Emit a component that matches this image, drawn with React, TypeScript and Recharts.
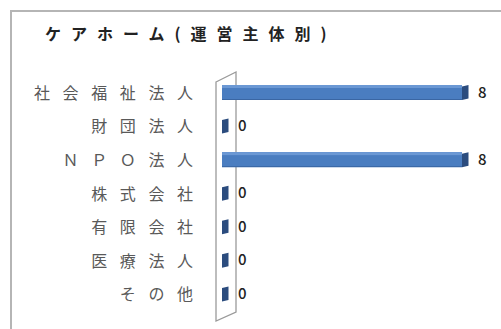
import React from 'react'
import { BarChart, Bar, XAxis, YAxis, LabelList } from 'recharts'

const title = 'ケアホーム(運営主体別)'
const categories = ['社会福祉法人', '財団法人', 'ＮＰＯ法人', '株式会社', '有限会社', '医療法人', 'その他']
const counts = [8, 0, 8, 0, 0, 0, 0]

const data = categories.map((name, i) => ({ name, value: counts[i] }))

const FONT = '"Noto Sans CJK JP", "Noto Sans", sans-serif'
const SPACING = 12.6
const W = 501
const H = 329
const MARGIN = { top: 76, right: 39, bottom: 18, left: 0 }
const AXIS_W = 222

function CategoryTick(props: any) {
  const { x, y, payload } = props
  return (
    <text x={x + SPACING} y={y} dy={6} textAnchor="end" fontFamily={FONT} fontSize={16}
      letterSpacing={SPACING} fill="#595959">
      {payload.value}
    </text>
  )
}

// 3d-ish bar: front face plus a dark end cap (zero bars show only the cap)
function Bar3D(props: any) {
  const { x, y, width, height } = props
  const w = Math.max(0, width || 0)
  const end = x + w
  return (
    <g>
      {w > 0 && (
        <>
          <rect x={x} y={y} width={w} height={height} fill="#4a7dc0" />
          <rect x={x} y={y} width={w} height={3} fill="#6b98d4" />
          <rect x={x} y={y + height - 1} width={w} height={1} fill="#3a66a3" />
        </>
      )}
      <polygon points={`${end},${y + 1.5} ${end + 6.5},${y} ${end + 6.5},${y + height - 1.5} ${end},${y + height}`}
        fill="#2b4c7e" />
    </g>
  )
}

// side wall of the 3d plot, drawn behind the chart svg
function Wall() {
  const x0 = MARGIN.left + AXIS_W
  const top = MARGIN.top
  const bottom = H - MARGIN.bottom
  const pts = `${x0 - 6},${top + 6} ${x0 + 14},${top - 4} ${x0 + 14},${bottom + 1} ${x0 - 6},${bottom + 10}`
  return (
    <svg width={W} height={H} style={{ position: 'absolute', left: 0, top: 0 }}>
      <polygon points={pts} fill="#fff" stroke="#9a9a9a" strokeWidth={1.3} />
    </svg>
  )
}

function ValueLabel(props: any) {
  const { x, y, width, height, value } = props
  return (
    <text x={x + Math.max(0, width) + 16} y={y + height / 2} dy={5} fontFamily={FONT} fontSize={15}
      fill="#222" fontWeight={500}>
      {value}
    </text>
  )
}

export default function App() {
  return (
    <div style={{ position: 'absolute', left: 0, top: 0, width: W, height: H, overflow: 'hidden', background: '#fff' }}>
      <div style={{ position: 'absolute', left: 10, top: 10, width: 600, height: 400,
        borderTop: '2px solid #b5b5b5', borderLeft: '2px solid #b5b5b5' }} />
      <div style={{ position: 'absolute', left: 45, top: 21, fontFamily: FONT, fontSize: 16,
        letterSpacing: 10, color: '#222', fontWeight: 600, whiteSpace: 'nowrap' }}>
        {title}
      </div>
      <Wall />
      <div style={{ position: 'absolute', left: 0, top: 0 }}>
        <BarChart width={W} height={H} data={data} layout="vertical" margin={MARGIN}>
          <XAxis type="number" domain={[0, 8]} hide />
          <YAxis type="category" dataKey="name" width={AXIS_W} tickLine={false} axisLine={false}
            tickSize={0} tickMargin={29} tick={<CategoryTick />} interval={0} />
          <Bar dataKey="value" barSize={15} isAnimationActive={false} shape={<Bar3D />}>
            <LabelList dataKey="value" content={<ValueLabel />} />
          </Bar>
        </BarChart>
      </div>
    </div>
  )
}
